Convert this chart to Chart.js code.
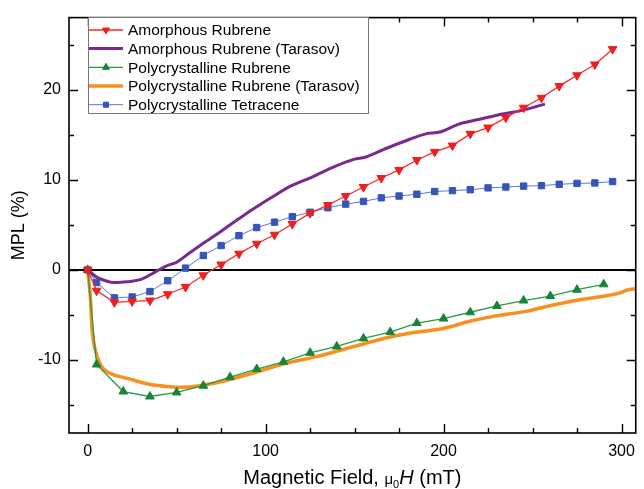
<!DOCTYPE html>
<html>
<head>
<meta charset="utf-8">
<script src="https://cdn.jsdelivr.net/npm/chart.js@4.4.1/dist/chart.umd.min.js"></script>
<style>
    html, body { margin: 0; padding: 0; background: #fff; }
    #wrap { width: 644px; height: 489px; }
</style>
</head>
<body>
<div id="wrap"><canvas id="mpl" width="644" height="489"></canvas></div>
<script>
// Field values (mT) and MPL (%)
const amorphousField = [0, 5, 15, 25, 35, 45, 55, 65, 75, 85, 95, 105, 115, 125, 135, 145, 155, 165, 175, 185, 195, 205, 215, 225, 235, 245, 255, 265, 275, 285, 295];
const amorphousMPL = [0, -2.3, -3.6, -3.5, -3.4, -2.7, -1.9, -0.6, 0.6, 1.8, 2.9, 3.9, 5.1, 6.3, 7.2, 8.2, 9.2, 10.2, 11.1, 12.2, 13.1, 13.8, 15.1, 15.8, 16.9, 18.0, 19.1, 20.4, 21.6, 22.8, 24.5];

const amorphousTarasovField = [0, 5, 10, 14, 20, 25, 30, 36, 40, 45, 50, 57, 66, 75, 88, 103, 114, 126, 139, 150, 156, 168, 181, 190, 198, 209, 222, 233, 244, 257];
const amorphousTarasovMPL = [0, -0.8, -1.2, -1.4, -1.35, -1.25, -1.05, -0.45, 0, 0.5, 0.85, 1.85, 3.1, 4.3, 6.1, 8.0, 9.3, 10.3, 11.5, 12.3, 12.5, 13.5, 14.5, 15.1, 15.3, 16.2, 16.8, 17.3, 17.7, 18.4];

const polyField = [0, 5, 20, 35, 50, 65, 80, 95, 110, 125, 140, 155, 170, 185, 200, 215, 230, 245, 260, 275, 290];
const polyMPL = [0, -10.5, -13.5, -14.05, -13.6, -12.85, -11.9, -11.0, -10.2, -9.2, -8.5, -7.6, -6.9, -5.9, -5.4, -4.7, -4.0, -3.4, -2.9, -2.2, -1.6];

const polyTarasovField = [0, 1.5, 2.6, 4.8, 8.5, 14, 23.4, 34.5, 45.7, 56.8, 66.1, 77.3, 92.1, 110.7, 129.2, 140.4, 155.3, 170.1, 185, 199.8, 214.7, 229.5, 246.2, 259.2, 274.1, 289, 298.2, 303.8, 310];
const polyTarasovMPL = [0, -3.0, -6.9, -9.3, -10.9, -11.6, -12.1, -12.7, -12.96, -13.0, -12.75, -12.3, -11.5, -10.4, -9.6, -9.0, -8.2, -7.45, -6.9, -6.5, -5.7, -5.1, -4.6, -4.0, -3.4, -2.95, -2.6, -2.2, -2.05];

const tetraceneField = [0, 5, 15, 25, 35, 45, 55, 65, 75, 85, 95, 105, 115, 125, 135, 145, 155, 165, 175, 185, 195, 205, 215, 225, 235, 245, 255, 265, 275, 285, 295];
const tetraceneMPL = [0, -1.4, -3.1, -3.0, -2.4, -1.2, 0.2, 1.6, 2.7, 3.8, 4.7, 5.3, 5.9, 6.4, 6.9, 7.3, 7.6, 8.0, 8.2, 8.4, 8.7, 8.8, 8.9, 9.1, 9.2, 9.3, 9.35, 9.5, 9.6, 9.65, 9.8];

const seriesLabels = ['Amorphous Rubrene', 'Amorphous Rubrene (Tarasov)', 'Polycrystalline Rubrene', 'Polycrystalline Rubrene (Tarasov)', 'Polycrystalline Tetracene'];

const FONT = '"Liberation Sans", Arial, Helvetica, sans-serif';

function toPoints(xs, ys) {
    return xs.map((x, i) => ({ x: x, y: ys[i] }));
}

// Zero line under the data
const zeroLine = {
    id: 'zeroLine',
    beforeDatasetsDraw(chart) {
        const { ctx, chartArea, scales } = chart;
        const y = scales.y.getPixelForValue(0);
        ctx.save();
        ctx.strokeStyle = '#000';
        ctx.lineWidth = 2;
        ctx.beginPath();
        ctx.moveTo(chartArea.left, y);
        ctx.lineTo(chartArea.right, y);
        ctx.stroke();
        ctx.restore();
    }
};

// Box frame with inward major/minor ticks on all four sides
const frameTicks = {
    id: 'frameTicks',
    afterDraw(chart) {
        const { ctx, chartArea: a, scales } = chart;
        ctx.save();
        ctx.strokeStyle = '#000';
        ctx.lineWidth = 1.6;
        ctx.strokeRect(a.left, a.top, a.right - a.left, a.bottom - a.top);

        ctx.lineWidth = 1.4;
        ctx.beginPath();
        const xs = scales.x;
        for (let v = Math.ceil(xs.min / 25) * 25; v <= xs.max; v += 25) {
            const px = Math.round(xs.getPixelForValue(v)) + 0.5;
            const len = v % 100 === 0 ? 9 : 5;
            ctx.moveTo(px, a.bottom); ctx.lineTo(px, a.bottom - len);
            ctx.moveTo(px, a.top); ctx.lineTo(px, a.top + len);
        }
        const ys = scales.y;
        for (let v = Math.ceil(ys.min / 5) * 5; v <= ys.max; v += 5) {
            const py = Math.round(ys.getPixelForValue(v)) + 0.5;
            const len = v % 10 === 0 ? 9 : 5;
            ctx.moveTo(a.left, py); ctx.lineTo(a.left + len, py);
            ctx.moveTo(a.right, py); ctx.lineTo(a.right - len, py);
        }
        ctx.stroke();
        ctx.restore();
    }
};

// X axis title with subscript and italic H
const xTitle = {
    id: 'xTitle',
    afterDraw(chart) {
        const { ctx, chartArea: a } = chart;
        const parts = [
            { t: 'Magnetic Field, ', f: '20px ' + FONT, dy: 0 },
            { t: '\u03bc', f: '15px ' + FONT, dy: 0 },
            { t: '0', f: '11px ' + FONT, dy: 4 },
            { t: 'H', f: 'italic 20px ' + FONT, dy: 0 },
            { t: ' (mT)', f: '20px ' + FONT, dy: 0 }
        ];
        ctx.save();
        ctx.fillStyle = '#000';
        ctx.textBaseline = 'alphabetic';
        let total = 0;
        parts.forEach(p => { ctx.font = p.f; p.w = ctx.measureText(p.t).width; total += p.w; });
        let x = (a.left + a.right) / 2 - total / 2;
        const base = 484;
        parts.forEach(p => {
            ctx.font = p.f;
            ctx.fillText(p.t, x, base + p.dy);
            x += p.w;
        });
        ctx.restore();
    }
};

// Framed legend in the upper left of the plot
const boxLegend = {
    id: 'boxLegend',
    afterDraw(chart) {
        const { ctx } = chart;
        const left = 88, top = 17, right = 368, bottom = 113;
        const rowY = [30, 48.5, 67.3, 86, 104.7];
        ctx.save();
        ctx.fillStyle = '#fff';
        ctx.fillRect(left, top, right - left, bottom - top);
        ctx.strokeStyle = '#777';
        ctx.lineWidth = 1;
        ctx.strokeRect(left + 0.5, top + 0.5, right - left, bottom - top);

        chart.data.datasets.forEach((ds, i) => {
            const y = rowY[i];
            ctx.strokeStyle = ds.borderColor;
            ctx.lineWidth = ds.borderWidth;
            ctx.beginPath();
            ctx.moveTo(left + 1, y);
            ctx.lineTo(left + 35, y);
            ctx.stroke();
            if (ds.pointRadius > 0) {
                ctx.fillStyle = ds.pointBackgroundColor;
                ctx.strokeStyle = ds.pointBackgroundColor;
                ctx.lineWidth = 1;
                Chart.helpers.drawPoint(ctx, {
                    pointStyle: ds.pointStyle,
                    rotation: ds.pointRotation || 0,
                    radius: ds.pointRadius * 0.8,
                    borderWidth: 1
                }, left + 18, y);
            }
            ctx.fillStyle = '#000';
            ctx.font = '15.5px ' + FONT;
            ctx.textBaseline = 'middle';
            ctx.fillText(ds.label, left + 40, y + 1);
        });
        ctx.restore();
    }
};

const datasets = [
    {
        label: seriesLabels[0],
        data: toPoints(amorphousField, amorphousMPL),
        borderColor: '#f52a2a',
        backgroundColor: '#f52a2a',
        pointBackgroundColor: '#f01e1e',
        pointBorderColor: '#f01e1e',
        borderWidth: 1.3,
        pointStyle: 'triangle',
        pointRotation: 180,
        pointRadius: 5,
        pointBorderWidth: 1
    },
    {
        label: seriesLabels[1],
        data: toPoints(amorphousTarasovField, amorphousTarasovMPL),
        borderColor: '#7a2a8e',
        backgroundColor: '#7a2a8e',
        borderWidth: 3,
        pointRadius: 0,
        tension: 0.3
    },
    {
        label: seriesLabels[2],
        data: toPoints(polyField, polyMPL),
        borderColor: '#2a9a4a',
        backgroundColor: '#17843a',
        pointBackgroundColor: '#17843a',
        pointBorderColor: '#17843a',
        borderWidth: 1.3,
        pointStyle: 'triangle',
        pointRadius: 5,
        pointBorderWidth: 1
    },
    {
        label: seriesLabels[3],
        data: toPoints(polyTarasovField, polyTarasovMPL),
        borderColor: '#f7901e',
        backgroundColor: '#f7901e',
        borderWidth: 3.5,
        pointRadius: 0,
        tension: 0.3
    },
    {
        label: seriesLabels[4],
        data: toPoints(tetraceneField, tetraceneMPL),
        borderColor: '#5b78cf',
        backgroundColor: '#3556b8',
        pointBackgroundColor: '#3556b8',
        pointBorderColor: '#3556b8',
        borderWidth: 1,
        pointStyle: 'rect',
        pointRadius: 4.5,
        pointBorderWidth: 1
    }
];

new Chart(document.getElementById('mpl'), {
    type: 'line',
    data: { datasets: datasets },
    options: {
        responsive: false,
        animation: false,
        layout: { padding: { left: 0, top: 11, right: 4, bottom: 0 } },
        plugins: {
            legend: { display: false },
            tooltip: { enabled: false }
        },
        scales: {
            x: {
                type: 'linear',
                min: -10.5,
                max: 308,
                grid: { display: false, drawTicks: false },
                border: { display: false },
                ticks: {
                    stepSize: 100,
                    includeBounds: false,
                    padding: 9,
                    color: '#000',
                    font: { family: FONT, size: 16 }
                },
                afterFit(scale) { scale.height = 56; }
            },
            y: {
                type: 'linear',
                min: -18.1,
                max: 28,
                grid: { display: false, drawTicks: false },
                border: { display: false },
                ticks: {
                    stepSize: 10,
                    includeBounds: false,
                    padding: 8,
                    color: '#000',
                    font: { family: FONT, size: 16 }
                },
                title: {
                    display: true,
                    text: 'MPL (%)',
                    color: '#000',
                    font: { family: FONT, size: 18 },
                    padding: { top: 8, bottom: 0 }
                },
                afterFit(scale) { scale.width = 69; }
            }
        }
    },
    plugins: [zeroLine, frameTicks, xTitle, boxLegend]
});
</script>
</body>
</html>
